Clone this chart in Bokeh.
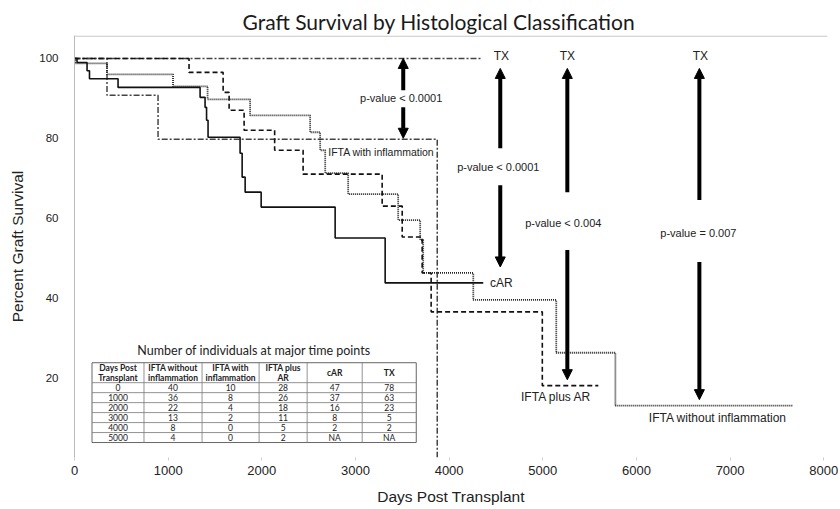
from bokeh.plotting import figure
from bokeh.models import Range1d, FixedTicker, ColumnDataSource, Arrow, NormalHead, Span
from bokeh.core.properties import value
from bokeh.embed import file_html
from bokeh.resources import INLINE

# ---------------- data ----------------
car_days = [0, 27, 134, 160, 465, 1341, 1394, 1410, 1426, 1768, 1790, 1822, 1993, 2783, 3317, 4364]
car_pct = [100, 99.0, 96.9, 94.9, 92.75, 90.25, 87.75, 84.5, 80.25, 76.25, 70.25, 66.5, 62.75, 55.0, 43.75, 43.75]

ifta_wo_days = [0, 8, 347, 1052, 1421, 1875, 2516, 2623, 2677, 2922, 3456, 3691, 3723, 4258, 5144, 5775, 7666]
ifta_wo_pct = [100, 98.75, 96.0, 93.0, 89.75, 85.75, 81.5, 77.0, 71.25, 66.0, 59.5, 54.5, 46.25, 39.5, 26.25, 13.0, 13.0]

ifta_ar_days = [0, 1223, 1587, 1651, 1811, 2137, 2441, 3285, 3499, 3712, 3808, 4995, 5593]
ifta_ar_pct = [100, 96.5, 91.5, 87.0, 82.0, 77.0, 71.0, 63.0, 55.25, 46.25, 36.5, 18.0, 18.0]

ifta_w_days = [0, 347, 892, 3873, 3873]
ifta_w_pct = [100, 90.75, 79.75, 0, 0]

tx_days = [0, 4343]
tx_pct = [100, 100]

# table: number of individuals at major time points
table_title = "Number of individuals at major time points"
table_header_1 = ["Days Post", "IFTA without", "IFTA with", "IFTA plus", "cAR", "TX"]
table_header_2 = ["Transplant", "inflammation", "inflammation", "AR", "", ""]
table_days = [0, 1000, 2000, 3000, 4000, 5000]
n_ifta_wo = [40, 36, 22, 13, 8, 4]
n_ifta_w = [10, 8, 4, 2, 0, 0]
n_ifta_ar = [28, 26, 18, 11, 5, 2]
n_car = ["47", "37", "16", "8", "2", "NA"]
n_tx = ["78", "63", "23", "5", "2", "NA"]

x_ticks = [0, 1000, 2000, 3000, 4000, 5000, 6000, 7000, 8000]
y_ticks = [20, 40, 60, 80, 100]

# ---------------- figure ----------------
p = figure(width=838, height=507, x_range=Range1d(0, 8040), y_range=Range1d(0, 105.75),
           output_backend="svg", toolbar_location=None,
           min_border_left=74, min_border_right=11, min_border_top=35, min_border_bottom=49)
p.grid.visible = False
p.outline_line_color = None

p.title.text = "Graft Survival by Histological Classification"
p.title.align = "left"
p.title.offset = 168
p.title.text_font = "Lato"
p.title.text_font_size = "21px"
p.title.text_font_style = "normal"
p.title.text_color = "#1a1a1a"
p.title.standoff = 3

xa = p.xaxis[0]
xa.ticker = FixedTicker(ticks=x_ticks)
xa.axis_line_color = None
xa.major_tick_in = 0
xa.major_tick_out = 3
xa.major_tick_line_color = "#cccccc"
xa.minor_tick_line_color = None
xa.major_label_standoff = 5
xa.major_label_text_font = "Liberation Sans"
xa.major_label_text_font_size = "13px"
xa.major_label_text_color = "#222222"
xa.axis_label = "Days Post Transplant"
xa.axis_label_text_font = "Liberation Sans"
xa.axis_label_text_font_size = "15.5px"
xa.axis_label_text_font_style = "normal"
xa.axis_label_text_color = "#222222"
xa.axis_label_standoff = 10

ya = p.yaxis[0]
ya.ticker = FixedTicker(ticks=y_ticks)
ya.axis_line_color = "#bbbbbb"
ya.major_tick_in = 0
ya.major_tick_out = 0
ya.minor_tick_line_color = None
ya.major_label_standoff = 16
ya.major_label_text_font = "Liberation Sans"
ya.major_label_text_font_size = "11.5px"
ya.major_label_text_color = "#222222"
ya.axis_label = "Percent Graft Survival"
ya.axis_label_text_font = "Liberation Sans"
ya.axis_label_text_font_size = "15.5px"
ya.axis_label_text_font_style = "normal"
ya.axis_label_text_color = "#222222"
ya.axis_label_standoff = 10

p.add_layout(Span(location=105.6, dimension="width", line_color="#bbbbbb", line_width=1))

# ---------------- survival curves ----------------
p.step(tx_days, tx_pct, mode="after", line_color="#444444", line_width=1.5, line_dash="6 2 2 2")
p.step(ifta_w_days, ifta_w_pct, mode="after", line_color="#444444", line_width=1.5, line_dash="6 2 2 2")
p.step(ifta_wo_days, ifta_wo_pct, mode="after", line_color="#222222", line_width=1.8, line_dash="1 1")
p.step(ifta_ar_days, ifta_ar_pct, mode="after", line_color="#111111", line_width=1.6, line_dash="5 3")
p.step(car_days, car_pct, mode="after", line_color="#111111", line_width=1.6)

# ---------------- arrows & annotation texts ----------------
arrow_x = [3510, 3510, 4546, 4546, 5262, 5262, 6672, 6672]
arrow_from = [92.0, 87.75, 77.5, 68.25, 66.5, 52.0, 64.5, 49.0]
arrow_to = [100.0, 80.0, 97.5, 47.75, 97.5, 19.5, 97.5, 14.5]
arrow_src = ColumnDataSource(dict(x0=arrow_x, y0=arrow_from, x1=arrow_x, y1=arrow_to))
p.add_layout(Arrow(source=arrow_src, x_start="x0", y_start="y0", x_end="x1", y_end="y1",
                   line_width=4, line_color="black",
                   end=NormalHead(size=10, fill_color="black", line_color="black", line_width=1)))

pval_text = ["p-value < 0.0001", "p-value < 0.0001", "p-value < 0.004", "p-value = 0.007"]
pval_x = [3488, 4525, 5219, 6661]
pval_y = [90.0, 72.75, 58.75, 56.25]
p.text(x=pval_x, y=pval_y, text=pval_text, text_font=value("Liberation Sans"),
       text_font_size="11px", text_align="center", text_baseline="middle", text_color="#222222")

grp_text = ["TX", "TX", "TX", "cAR", "IFTA plus AR", "IFTA without  inflammation"]
grp_x = [4557, 5262, 6683, 4557, 5144, 6886]
grp_y = [100.5, 100.5, 100.5, 43.75, 15.25, 10.0]
p.text(x=grp_x, y=grp_y, text=grp_text, text_font=value("Liberation Sans"),
       text_font_size="12px", text_align="center", text_baseline="middle", text_color="#222222")
p.text(x=[3275], y=[76.5], text=["IFTA with inflammation"], text_font=value("Liberation Sans"),
       text_font_size="10.5px", text_align="center", text_baseline="middle", text_color="#222222")

# ---------------- table ----------------
col_bounds = [187, 742, 1362, 1971, 2484, 3072, 3649]
row_bounds = [23.75, 18.75, 16.25, 13.75, 11.25, 8.75, 6.25, 3.75]
centers = [(col_bounds[i] + col_bounds[i + 1]) / 2 for i in range(6)]

p.quad(left=[col_bounds[0]], right=[col_bounds[-1]], bottom=[row_bounds[-1]], top=[row_bounds[0]],
       fill_color="white", line_color="#666666", line_width=1)
p.segment(x0=col_bounds[1:-1], y0=[row_bounds[-1]] * 5, x1=col_bounds[1:-1], y1=[row_bounds[0]] * 5,
          line_color="#777777", line_width=0.8)
p.segment(x0=[col_bounds[0]] * 6, y0=row_bounds[1:-1], x1=[col_bounds[-1]] * 6, y1=row_bounds[1:-1],
          line_color="#777777", line_width=0.8)

p.text(x=[(col_bounds[0] + col_bounds[-1]) / 2], y=[26.75], text=[table_title], text_font=value("Lato"),
       text_font_size="12.5px", text_align="center", text_baseline="middle", text_color="#222222")

h1_y = [22.5 if table_header_2[i] else 21.25 for i in range(6)]
p.text(x=centers, y=h1_y, text=table_header_1, text_font=value("Lato"), text_font_style="bold",
       text_font_size="8.5px", text_align="center", text_baseline="middle", text_color="#222222")
p.text(x=centers, y=[20.0] * 6, text=table_header_2, text_font=value("Lato"), text_font_style="bold",
       text_font_size="8.5px", text_align="center", text_baseline="middle", text_color="#222222")

cols = [[str(d) for d in table_days], [str(v) for v in n_ifta_wo], [str(v) for v in n_ifta_w],
        [str(v) for v in n_ifta_ar], n_car, n_tx]
row_y = [(row_bounds[i + 1] + row_bounds[i + 2]) / 2 for i in range(6)]
cx, cy, ct = [], [], []
for ci, col in enumerate(cols):
    for ri, t in enumerate(col):
        cx.append(centers[ci])
        cy.append(row_y[ri])
        ct.append(t)
p.text(x=cx, y=cy, text=ct, text_font=value("Lato"), text_font_size="8.5px",
       text_align="center", text_baseline="middle", text_color="#222222")

open("out.html", "w").write(file_html(p, INLINE))
